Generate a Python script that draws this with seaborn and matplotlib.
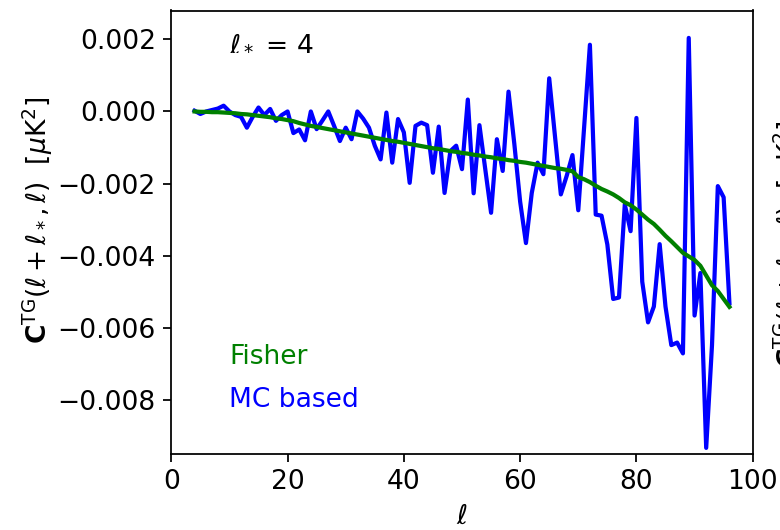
import numpy as np
import pandas as pd
import matplotlib
matplotlib.use("Agg")
import matplotlib.pyplot as plt
import seaborn as sns

# multipole ell values
ell = list(range(4, 97))

# MC based estimate (units of 1e-3 muK^2)
mc_based = [
    0.02, -0.07, 0.00, 0.04, 0.08, 0.16, 0.00, -0.10, -0.15, -0.45,
    -0.15, 0.11, -0.10, 0.07, -0.26, -0.10, 0.00, -0.60, -0.50, -0.80,
    0.00, -0.49, -0.25, 0.00, -0.40, -0.82, -0.45, -0.77, 0.00, -0.20,
    -0.45, -0.95, -1.33, -0.03, -1.42, -0.21, -0.58, -1.98, -0.40, -0.31,
    -0.38, -1.70, -0.42, -2.26, -1.10, -0.95, -1.60, 0.33, -2.27, -0.38,
    -1.60, -2.81, -0.77, -1.65, 0.55, -0.90, -2.50, -3.65, -2.26, -1.42,
    -1.74, 0.92, -0.70, -2.30, -1.79, -1.21, -2.74, -0.45, 1.85, -2.86,
    -2.89, -3.69, -5.20, -5.16, -2.58, -3.32, -0.18, -4.72, -5.85, -5.41,
    -3.68, -5.41, -6.48, -6.41, -6.71, 2.04, -5.66, -4.48, -9.33, -6.48,
    -2.07, -2.38, -5.32,
]

# Fisher estimate (units of 1e-3 muK^2)
fisher = [
    0.00, -0.01, -0.01, -0.02, -0.02, -0.03, -0.04, -0.05, -0.07, -0.08,
    -0.10, -0.12, -0.14, -0.16, -0.19, -0.21, -0.24, -0.27, -0.32, -0.36,
    -0.40, -0.43, -0.46, -0.49, -0.52, -0.55, -0.58, -0.61, -0.64, -0.67,
    -0.70, -0.73, -0.76, -0.79, -0.82, -0.84, -0.87, -0.90, -0.93, -0.96,
    -0.99, -1.02, -1.04, -1.07, -1.10, -1.12, -1.15, -1.17, -1.20, -1.22,
    -1.25, -1.27, -1.30, -1.32, -1.35, -1.37, -1.40, -1.42, -1.45, -1.48,
    -1.51, -1.54, -1.57, -1.59, -1.62, -1.66, -1.82, -1.88, -1.96, -2.06,
    -2.15, -2.22, -2.30, -2.40, -2.52, -2.60, -2.72, -2.86, -3.00, -3.12,
    -3.28, -3.45, -3.60, -3.76, -3.92, -4.02, -4.12, -4.28, -4.55, -4.82,
    -4.98, -5.20, -5.42,
]

xticks = [0, 20, 40, 60, 80, 100]
yticks = [-0.008, -0.006, -0.004, -0.002, 0.000, 0.002]

df = pd.DataFrame({
    "ell": ell,
    "mc": np.array(mc_based) * 1e-3,
    "fisher": np.array(fisher) * 1e-3,
})

plt.rcParams["font.size"] = 12
plt.rcParams["font.family"] = ["DejaVu Sans"]
plt.rcParams["mathtext.fontset"] = "dejavusans"

DPI = 159
W, H = 781, 530
fig = plt.figure(figsize=(W / DPI, H / DPI), dpi=DPI)
left, right, top, bottom = 171.3, 752.7, 10.5, 454.0
ax = fig.add_axes([left / W, 1 - bottom / H, (right - left) / W, (bottom - top) / H])

sns.lineplot(data=df, x="ell", y="mc", ax=ax, color="blue", lw=1.9, estimator=None)
sns.lineplot(data=df, x="ell", y="fisher", ax=ax, color="green", lw=1.9, estimator=None)

ax.set_xlim(0, 100)
ax.set_ylim(-0.0095, 0.0028)
ax.set_xticks(xticks)
ax.set_yticks(yticks)
ax.set_yticklabels([f"{v:.3f}".replace("-", "\u2212") for v in yticks])

label = r"$\mathbf{C}^{\rm TG}(\ell+\ell_*,\ell)$  [$\mu$K$^2$]"
ax.set_xlabel(r"$\ell$")
ax.set_ylabel(label, labelpad=1)
ax.yaxis.label.set_y(0.527)

ax.text(10, 0.0019, r"$\ell_*$ = 4", ha="left", va="center")
ax.text(10, -0.0068, "Fisher", color="green", ha="left", va="center")
ax.text(10, -0.0080, "MC based", color="blue", ha="left", va="center")

# partially visible label of the neighbouring panel
fig.text(772 / W, 1 - 244 / H, label, rotation=90, ha="left", va="center")

fig.savefig("out.png", dpi=DPI)
